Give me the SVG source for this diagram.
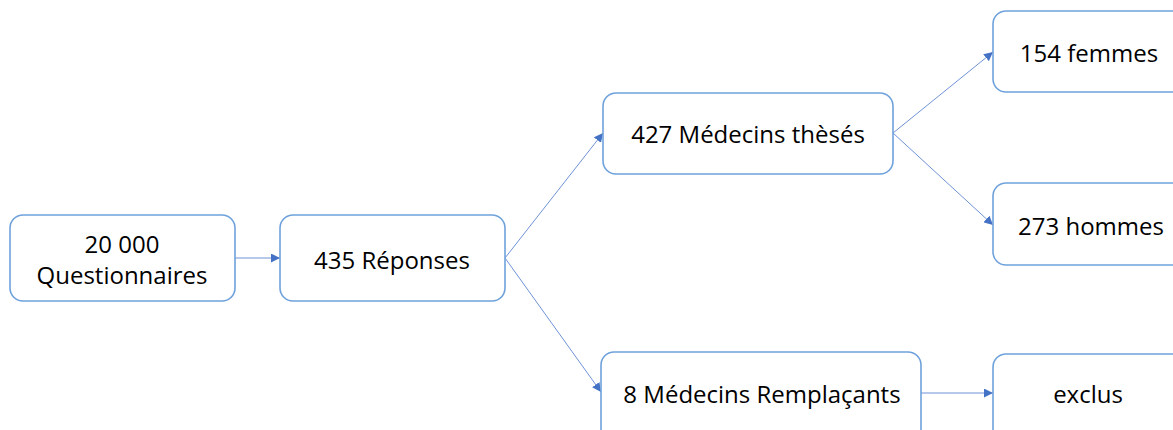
<svg xmlns="http://www.w3.org/2000/svg" width="1173" height="430" viewBox="0 0 1173 430">
<style>
.box{fill:#fff;stroke:#6fa2dc;stroke-width:1.6}
.t{font-family:"Open Sans","Liberation Sans",sans-serif;font-size:24px;fill:#000;text-anchor:middle;dominant-baseline:central}
.c{stroke:#6f93d6;stroke-width:1;fill:none;marker-end:url(#a)}
</style>
<defs>
<marker id="a" viewBox="0 0 10 10" refX="10" refY="5" markerWidth="9" markerHeight="9" markerUnits="userSpaceOnUse" orient="auto">
<path d="M0,0 L10,5 L0,10 z" fill="#4472c4"/>
</marker>
</defs>
<rect width="1173" height="430" fill="#fff"/>
<g id="connectors">
<line class="c" x1="235" y1="258" x2="280" y2="258"/>
<line class="c" x1="505" y1="258" x2="603" y2="133"/>
<line class="c" x1="505" y1="258" x2="601" y2="392"/>
<line class="c" x1="893" y1="133" x2="993" y2="52"/>
<line class="c" x1="893" y1="133" x2="993" y2="225"/>
<line class="c" x1="921" y1="393" x2="993" y2="393"/>
</g>
<g id="n1"><rect class="box" x="10" y="215" width="225" height="86" rx="13"/><text class="t" x="122" y="243">20 000</text><text class="t" x="122" y="274">Questionnaires</text></g>
<g id="n2"><rect class="box" x="280" y="215" width="225" height="86" rx="13"/><text class="t" x="392" y="259">435 Réponses</text></g>
<g id="n3"><rect class="box" x="603" y="93" width="290" height="81" rx="13"/><text class="t" x="748" y="133">427 Médecins thèsés</text></g>
<g id="n4"><rect class="box" x="993" y="11" width="200" height="81" rx="13"/><text class="t" x="1089" y="52">154 femmes</text></g>
<g id="n5"><rect class="box" x="993" y="183" width="200" height="82" rx="13"/><text class="t" x="1091" y="225">273 hommes</text></g>
<g id="n6"><rect class="box" x="601" y="352" width="320" height="90" rx="13"/><text class="t" x="762" y="393">8 Médecins Remplaçants</text></g>
<g id="n7"><rect class="box" x="993" y="354" width="200" height="90" rx="13"/><text class="t" x="1088" y="393">exclus</text></g>
</svg>
